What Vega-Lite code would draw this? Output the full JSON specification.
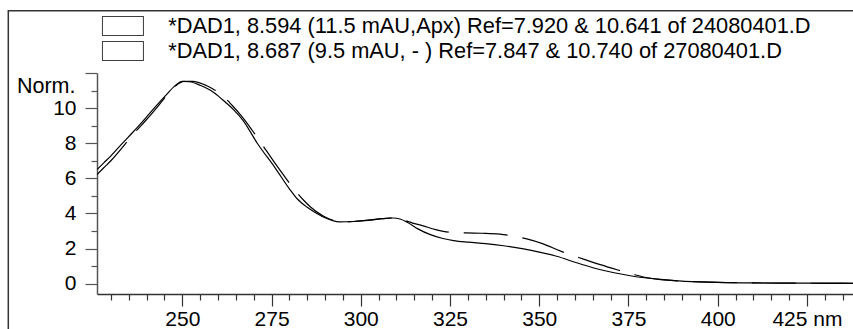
{
  "$schema": "https://vega.github.io/schema/vega-lite/v6.json",
  "autosize": {"type": "none"},
  "width": 756,
  "height": 221,
  "padding": {"left": 97, "top": 73, "right": 0, "bottom": 35},
  "background": "white",
  "config": {"view": {"stroke": null}, "font": "Liberation Sans"},
  "resolve": {"axis": {"x": "independent", "y": "independent"}},
  "data": {"values": [
    {"s":"A","nm":226.1,"v":6.50},{"s":"A","nm":228,"v":6.88},{"s":"A","nm":230,"v":7.28},{"s":"A","nm":233,"v":7.95},{"s":"A","nm":236.4,"v":8.68},{"s":"A","nm":240,"v":9.5},{"s":"A","nm":243,"v":10.2},{"s":"A","nm":245.5,"v":10.75},{"s":"A","nm":248,"v":11.28},{"s":"A","nm":250,"v":11.52},{"s":"A","nm":252,"v":11.5},{"s":"A","nm":255,"v":11.3},{"s":"A","nm":258,"v":11.0},{"s":"A","nm":260.2,"v":10.67},{"s":"A","nm":262,"v":10.35},{"s":"A","nm":264.4,"v":9.9},{"s":"A","nm":267,"v":9.3},{"s":"A","nm":271,"v":8.0},{"s":"A","nm":276,"v":6.6},{"s":"A","nm":280,"v":5.4},{"s":"A","nm":282.1,"v":4.85},{"s":"A","nm":285,"v":4.35},{"s":"A","nm":287.7,"v":4.0},{"s":"A","nm":290,"v":3.75},{"s":"A","nm":292,"v":3.6},{"s":"A","nm":294,"v":3.52},{"s":"A","nm":298,"v":3.54},{"s":"A","nm":302,"v":3.6},{"s":"A","nm":306,"v":3.7},{"s":"A","nm":309,"v":3.74},{"s":"A","nm":311,"v":3.68},{"s":"A","nm":313,"v":3.5},{"s":"A","nm":316,"v":3.12},{"s":"A","nm":319.5,"v":2.79},{"s":"A","nm":323,"v":2.57},{"s":"A","nm":326,"v":2.45},{"s":"A","nm":330,"v":2.36},{"s":"A","nm":335,"v":2.28},{"s":"A","nm":340,"v":2.16},{"s":"A","nm":345.6,"v":1.98},{"s":"A","nm":350,"v":1.8},{"s":"A","nm":354.9,"v":1.56},{"s":"A","nm":360,"v":1.22},{"s":"A","nm":366.1,"v":0.85},{"s":"A","nm":371,"v":0.62},{"s":"A","nm":375.5,"v":0.45},{"s":"A","nm":380,"v":0.32},{"s":"A","nm":384,"v":0.23},{"s":"A","nm":390,"v":0.14},{"s":"A","nm":395,"v":0.1},{"s":"A","nm":400,"v":0.07},{"s":"A","nm":410,"v":0.04},{"s":"A","nm":420,"v":0.03},{"s":"A","nm":430,"v":0.03},{"s":"A","nm":437.9,"v":0.02},
    {"s":"B","nm":226.1,"v":6.21},{"s":"B","nm":228,"v":6.6},{"s":"B","nm":230,"v":7.0},{"s":"B","nm":233,"v":7.7},{"s":"B","nm":236,"v":8.45},{"s":"B","nm":240,"v":9.35},{"s":"B","nm":243,"v":10.05},{"s":"B","nm":245.5,"v":10.7},{"s":"B","nm":248,"v":11.25},{"s":"B","nm":250.5,"v":11.52},{"s":"B","nm":253,"v":11.52},{"s":"B","nm":256,"v":11.35},{"s":"B","nm":258.5,"v":11.1},{"s":"B","nm":260.6,"v":10.83},{"s":"B","nm":264,"v":10.15},{"s":"B","nm":267,"v":9.45},{"s":"B","nm":271.6,"v":8.15},{"s":"B","nm":276,"v":6.85},{"s":"B","nm":281.6,"v":5.32},{"s":"B","nm":284,"v":4.75},{"s":"B","nm":286,"v":4.35},{"s":"B","nm":289.6,"v":3.84},{"s":"B","nm":292,"v":3.62},{"s":"B","nm":294.3,"v":3.51},{"s":"B","nm":298,"v":3.54},{"s":"B","nm":302,"v":3.62},{"s":"B","nm":306,"v":3.7},{"s":"B","nm":309,"v":3.75},{"s":"B","nm":312,"v":3.62},{"s":"B","nm":314.5,"v":3.45},{"s":"B","nm":317,"v":3.32},{"s":"B","nm":321,"v":3.08},{"s":"B","nm":324.9,"v":2.93},{"s":"B","nm":329.4,"v":2.89},{"s":"B","nm":333.9,"v":2.87},{"s":"B","nm":339,"v":2.82},{"s":"B","nm":343,"v":2.7},{"s":"B","nm":346.5,"v":2.55},{"s":"B","nm":350.9,"v":2.28},{"s":"B","nm":356,"v":1.85},{"s":"B","nm":362.8,"v":1.37},{"s":"B","nm":367.1,"v":1.08},{"s":"B","nm":372,"v":0.78},{"s":"B","nm":376,"v":0.55},{"s":"B","nm":379.2,"v":0.38},{"s":"B","nm":384,"v":0.24},{"s":"B","nm":390,"v":0.14},{"s":"B","nm":395,"v":0.1},{"s":"B","nm":400,"v":0.07},{"s":"B","nm":410,"v":0.04},{"s":"B","nm":420,"v":0.03},{"s":"B","nm":430,"v":0.02},{"s":"B","nm":437.9,"v":0.02}
  ]},
  "layer": [
    {
      "transform": [{"filter": "datum.s === 'A'"}],
      "mark": {"type": "line", "interpolate": "monotone", "strokeWidth": 1.2, "clip": true},
      "encoding": {
        "x": {
          "field": "nm", "type": "quantitative",
          "scale": {"domain": [226.1, 437.9], "nice": false, "zero": false},
          "axis": {
            "title": null, "grid": false, "format": "d",
            "values": [230,235,240,245,250,255,260,265,270,275,280,285,290,295,300,305,310,315,320,325,330,335,340,345,350,355,360,365,370,375,380,385,390,395,400,405,410,415,420,425,430,435],
            "domainColor": "#333", "domainWidth": 1.5,
            "tickColor": "#333", "tickWidth": 1.2,
            "tickSize": {"condition": {"test": "datum.value % 25 === 0", "value": 12}, "value": 6},
            "labelExpr": "datum.value % 25 === 0 ? (datum.value === 425 ? '\u00a0\u00a0\u00a0\u00a0\u00a0\u00a0425 nm' : datum.label) : ''",
            "labelFont": "Liberation Sans", "labelFontSize": 21, "labelColor": "#000",
            "labelPadding": 2, "labelOverlap": false, "labelFlush": false, "labelBound": false
          }
        },
        "y": {
          "field": "v", "type": "quantitative",
          "scale": {"domain": [-0.59, 12], "nice": false, "zero": false},
          "axis": {
            "grid": false, "format": "d",
            "values": [0,0.5,1,1.5,2,2.5,3,3.5,4,4.5,5,5.5,6,6.5,7,7.5,8,8.5,9,9.5,10,10.5,11,11.5,12],
            "domainColor": "#555", "domainWidth": 1.5,
            "tickColor": "#555", "tickWidth": 1.2,
            "tickSize": {"condition": {"test": "datum.value % 2 === 0", "value": 12}, "value": 6},
            "labelExpr": "datum.value % 2 === 0 && datum.value < 12 ? format(datum.value, 'd') : ''",
            "labelFont": "Liberation Sans", "labelFontSize": 21, "labelColor": "#000",
            "labelPadding": 9, "labelOverlap": false, "labelBound": false,
            "title": "Norm.", "titleAngle": 0, "titleX": -22, "titleY": 19,
            "titleAlign": "right", "titleBaseline": "alphabetic",
            "titleFont": "Liberation Sans", "titleFontSize": 21.5, "titleFontWeight": "normal", "titleColor": "#000"
          }
        },
        "color": {
          "field": "s", "type": "nominal",
          "scale": {"domain": ["A", "B"], "range": ["#000", "#000"]},
          "legend": {
            "orient": "none", "legendX": 14.95, "legendY": -58, "title": null,
            "symbolType": "M-2,-0.9268H2V0.9268H-2Z", "symbolSize": 420,
            "symbolStrokeWidth": 1, "symbolDash": [1, 0],
            "labelExpr": "datum.value === 'A' ? '*DAD1, 8.594 (11.5 mAU,Apx) Ref=7.920 & 10.641 of 24080401.D' : '*DAD1, 8.687 (9.5 mAU, - ) Ref=7.847 & 10.740 of 27080401.D'",
            "labelFont": "Liberation Sans", "labelFontSize": 21.8, "labelColor": "#000",
            "labelLimit": 2000, "labelOffset": 34.25, "rowPadding": 1,
            "encode": {"symbols": {"update": {"stroke": {"value": "#555"}, "fill": {"value": "#fff"}, "strokeDash": {"value": [1, 0]}, "opacity": {"value": 1}}}}
          }
        }
      }
    },
    {
      "transform": [{"filter": "datum.s === 'B'"}],
      "mark": {"type": "line", "interpolate": "monotone", "strokeWidth": 1.2, "strokeDash": [44, 15], "color": "#000", "clip": true},
      "encoding": {
        "x": {"field": "nm", "type": "quantitative", "axis": null},
        "y": {"field": "v", "type": "quantitative", "axis": null}
      }
    },
    {
      "data": {"values": [{"x1": 201.25, "x2": 470, "y1": -6, "y2": 15.55}]},
      "mark": {"type": "rect", "fill": null, "stroke": "#333", "strokeWidth": 1.5, "clip": false},
      "encoding": {
        "x": {"field": "x1", "type": "quantitative", "axis": null},
        "x2": {"field": "x2"},
        "y": {"field": "y1", "type": "quantitative", "axis": null},
        "y2": {"field": "y2"}
      }
    }
  ]
}
